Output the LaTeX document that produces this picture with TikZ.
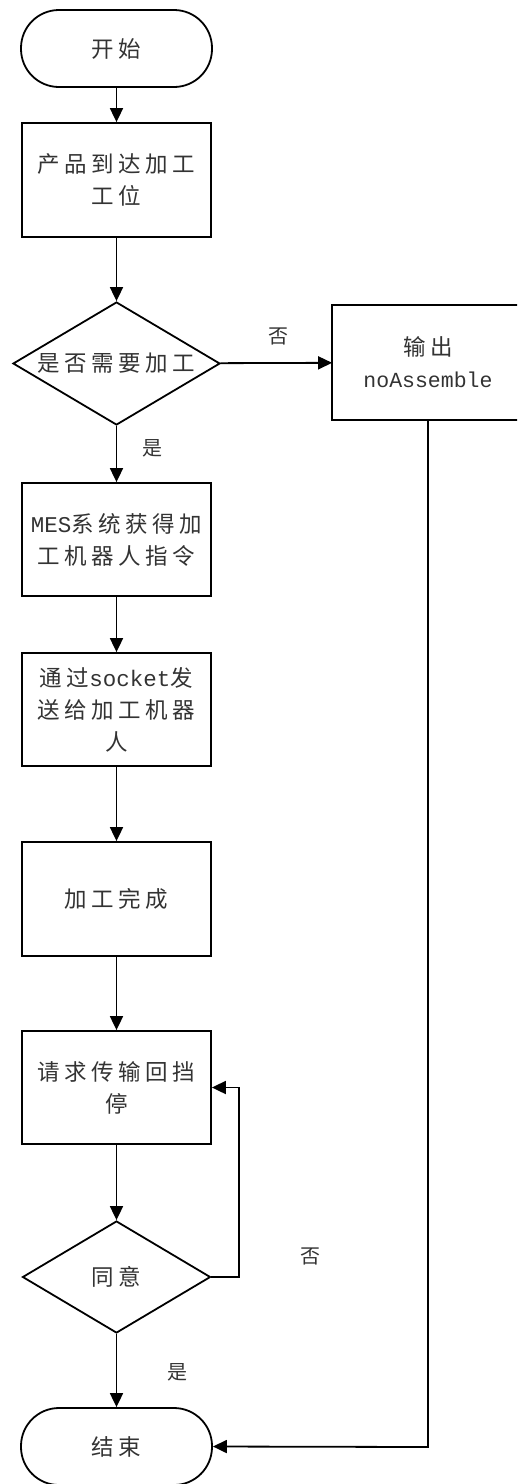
\documentclass[tikz,border=0pt]{standalone}
\usepackage{fontspec}
\setmainfont{Noto Sans CJK SC}[LetterSpace=20]
\newfontfamily\latmono{Liberation Mono}
\usetikzlibrary{shapes.geometric,arrows.meta}
\tikzset{
  base/.style={draw=black, line width=1.8pt, text=black!80, align=center, inner sep=0pt,
    font=\fontsize{22.5pt}{32pt}\selectfont},
  procbox/.style={base, rectangle, minimum width=189pt, minimum height=114pt},
  term/.style={base, rectangle, rounded corners=38pt, minimum width=191pt, minimum height=77pt},
  decide/.style={base, diamond},
  dtext/.style={text=black!80, align=center, inner sep=0pt, font=\fontsize{22.5pt}{32pt}\selectfont},
  conn/.style={draw=black, line width=1.8pt, -{Triangle[length=14pt,width=13pt]}},
  lbl/.style={text=black!80, font=\fontsize{20pt}{22pt}\selectfont, inner sep=0pt}
}
\begin{document}
\begin{tikzpicture}[x=1pt,y=-1pt]
\clip (0,0) rectangle (517,1484);
\fill[white] (0,0) rectangle (517,1484);
\node[term] (start) at (116.5,48.5) {开始};
\node[procbox] (arrive) at (116.5,180) {产品到达加工\\工位};
\node[decide, minimum width=207pt, minimum height=123pt] (need) at (116.5,363.5) {};
\node[dtext] (needt) at (need.center) {是否需要加工};
\node[procbox, draw=none, minimum width=190pt, minimum height=113pt] (out) at (428,362.5) {输出\\{\latmono\fontsize{21.5pt}{32pt}\selectfont noAssemble}};
\draw[line width=1.8pt] ([xshift=12pt]out.north east) -- (out.north west) -- (out.south west) -- ([xshift=12pt]out.south east);
\node[procbox, minimum height=113pt] (mes) at (116.5,539.5) {{\latmono MES}系统获得加\\工机器人指令};
\node[procbox, minimum height=113pt] (send) at (116.5,709.5) {通过{\latmono socket}发\\送给加工机器\\人};
\node[procbox] (done) at (116.5,899) {加工完成};
\node[procbox, minimum height=113pt] (req) at (116.5,1087.5) {请求传输回挡\\停};
\node[decide, minimum width=188pt, minimum height=112pt] (agree) at (116.5,1277) {};
\node[dtext] (agreet) at (agree.center) {同意};
\node[term] (stop) at (116.5,1446.5) {结束};
\coordinate (loopc) at (239,1277);
\coordinate (outc) at (428,1447);

\draw[conn] (start) -- (arrive);
\draw[conn] (arrive) -- (need);
\draw[conn] (need) -- (mes);
\draw[conn] (need) -- (out);
\draw[conn] (mes) -- (send);
\draw[conn] (send) -- (done);
\draw[conn] (done) -- (req);
\draw[conn] (req) -- (agree);
\draw[conn] (agree) -- (stop);
\draw[conn] (agree.east) -- (loopc) |- (req.east);
\draw[conn] (out.south) -- (outc) -- (stop.east);

\node[lbl] (l1) at (278,336) {否};
\node[lbl] (l2) at (152,448) {是};
\node[lbl] (l3) at (310,1256) {否};
\node[lbl] (l4) at (177,1372) {是};
\end{tikzpicture}
\end{document}
